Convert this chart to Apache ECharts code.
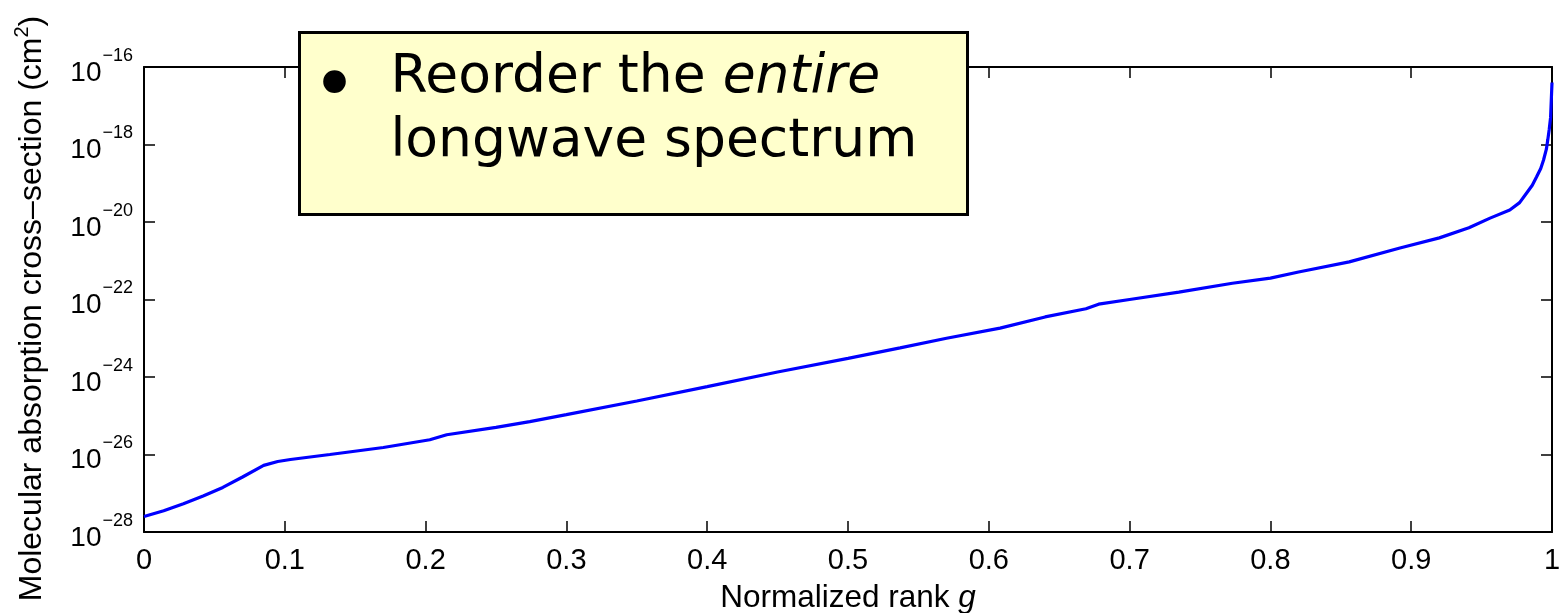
<!DOCTYPE html>
<html>
<head>
<meta charset="utf-8">
<script src="https://cdn.jsdelivr.net/npm/echarts@6/dist/echarts.min.js"></script>
<style>
html,body{margin:0;padding:0;background:#fff;}
#chart{width:1559px;height:613px;}
</style>
</head>
<body>
<div id="chart"></div>
<script>
// Normalized rank g
const rankG = [0, 0.014, 0.028, 0.042, 0.056, 0.07, 0.085, 0.095, 0.104, 0.132, 0.17, 0.203, 0.215, 0.25, 0.274, 0.3, 0.35, 0.4, 0.45, 0.5, 0.537, 0.57, 0.608, 0.64, 0.669, 0.678, 0.70, 0.735, 0.773, 0.80, 0.82, 0.856, 0.892, 0.92, 0.941, 0.956, 0.970, 0.977, 0.982, 0.986, 0.989, 0.992, 0.994, 0.996, 0.997, 0.998, 0.999, 1.0];
// log10 of molecular absorption cross-section (cm^2)
const log10Sigma = [-27.6, -27.45, -27.27, -27.07, -26.85, -26.58, -26.28, -26.18, -26.13, -26.0, -25.82, -25.62, -25.49, -25.3, -25.15, -24.97, -24.62, -24.25, -23.87, -23.52, -23.25, -23.0, -22.74, -22.45, -22.24, -22.12, -22.0, -21.81, -21.58, -21.45, -21.29, -21.03, -20.67, -20.41, -20.15, -19.9, -19.69, -19.5, -19.25, -19.05, -18.84, -18.62, -18.4, -18.12, -17.88, -17.62, -17.3, -16.4];
const xTickLabels = ['0', '0.1', '0.2', '0.3', '0.4', '0.5', '0.6', '0.7', '0.8', '0.9', '1'];
const yExponents = [-28, -26, -24, -22, -20, -18, -16];

const seriesData = rankG.map((g, i) => [g, log10Sigma[i]]);

const chart = echarts.init(document.getElementById('chart'), null, {renderer: 'canvas'});
const FONT = '"Liberation Sans", Arial, Helvetica, sans-serif';
const BOXFONT = '"DejaVu Sans", Verdana, sans-serif';

const axisLineStyle = {color: '#000', width: 2};
const tickStyle = {show: true, inside: true, length: 11, lineStyle: {color: '#000', width: 1.5}};
const option = {
  animation: false,
  backgroundColor: '#fff',
  grid: {left: 144, right: 7, top: 67, bottom: 81, containLabel: false, outerBoundsMode: 'none'},
  xAxis: [{
    type: 'value', min: 0, max: 1, interval: 0.1,
    position: 'bottom',
    axisLine: {show: true, onZero: false, lineStyle: axisLineStyle},
    axisTick: tickStyle,
    splitLine: {show: false},
    axisLabel: {
      margin: 14, color: '#000', fontSize: 29, fontFamily: FONT,
      formatter: (v) => { const i = Math.round(v * 10); return xTickLabels[i] !== undefined ? xTickLabels[i] : ''; }
    },
    name: 'Normalized rank {i|g}',
    nameLocation: 'middle', nameGap: 50,
    nameTextStyle: {color: '#000', fontSize: 31.5, fontFamily: FONT,
      rich: {i: {fontStyle: 'italic', fontSize: 31.5, fontFamily: FONT, color: '#000'}}}
  }, {
    type: 'value', min: 0, max: 1, interval: 0.1,
    position: 'top',
    axisLine: {show: true, onZero: false, lineStyle: axisLineStyle},
    axisTick: tickStyle,
    axisLabel: {show: false}, splitLine: {show: false}
  }],
  yAxis: [{
    type: 'value', min: -28, max: -16, interval: 2,
    position: 'left',
    axisLine: {show: true, onZero: false, lineStyle: axisLineStyle},
    axisTick: tickStyle,
    splitLine: {show: false},
    axisLabel: {
      margin: 11, color: '#000', fontFamily: FONT,
      formatter: (v) => {
        const e = Math.round(v);
        if (yExponents.indexOf(e) < 0) return '';
        return '{b|10}{s|\u2212' + Math.abs(e) + '}';
      },
      rich: {
        b: {fontSize: 28, fontFamily: FONT, color: '#000', verticalAlign: 'bottom', lineHeight: 40},
        s: {fontSize: 18, fontFamily: FONT, color: '#000', verticalAlign: 'top', lineHeight: 16, padding: [0, 0, 0, 1]}
      }
    },
    name: 'Molecular absorption cross\u2013section (cm{sup|2})',
    nameLocation: 'middle', nameGap: 92, nameRotate: 90,
    nameTextStyle: {color: '#000', fontSize: 32, fontFamily: FONT, lineHeight: 40, padding: [0, 18, 0, 0],
      rich: {
        sup: {fontSize: 20, fontFamily: FONT, color: '#000', verticalAlign: 'top', lineHeight: 18}
      }}
  }, {
    type: 'value', min: -28, max: -16, interval: 2,
    position: 'right',
    axisLine: {show: true, onZero: false, lineStyle: axisLineStyle},
    axisTick: tickStyle,
    axisLabel: {show: false}, splitLine: {show: false}
  }],
  series: [{
    type: 'line',
    xAxisIndex: 0, yAxisIndex: 0,
    data: seriesData,
    showSymbol: false,
    smooth: false,
    lineStyle: {color: '#0000ff', width: 3.2},
    clip: true
  }],
  graphic: [{
    type: 'group', left: 298, top: 31, z: 100, zlevel: 1,
    children: [{
      type: 'rect', z: 100, zlevel: 1,
      shape: {x: 0, y: 0, width: 668, height: 182},
      style: {fill: '#ffffcc', stroke: '#000', lineWidth: 3}
    }, {
      type: 'text', x: 35, y: 58, z: 101, zlevel: 1,
      style: {
        text: '\u2022', font: '78px ' + BOXFONT, fill: '#000',
        align: 'center', verticalAlign: 'middle'
      }
    }, {
      type: 'text', x: 91, y: 14, z: 101, zlevel: 1,
      style: {
        text: '{n|Reorder the }{it|entire}\n{n|longwave spectrum}',
        fill: '#000',
        rich: {
          n: {font: '53.5px ' + BOXFONT, fill: '#000', lineHeight: 64},
          it: {font: 'italic 53.5px ' + BOXFONT, fill: '#000', lineHeight: 64}
        }
      }
    }]
  }]
};
chart.setOption(option);
</script>
</body>
</html>
